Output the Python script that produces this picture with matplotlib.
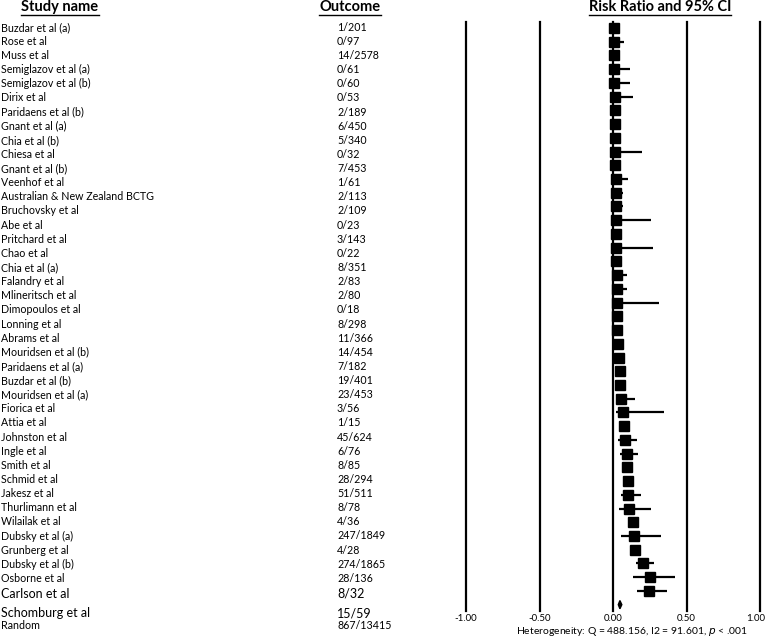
import numpy as np
import matplotlib
matplotlib.use('Agg')
import matplotlib.pyplot as plt
import matplotlib.transforms as mtransforms
from matplotlib.lines import Line2D

plt.rcParams['font.family'] = ['Lato', 'DejaVu Sans']

# du lieu doc tu hinh
studies = ['Buzdar et al (a)', 'Rose et al', 'Muss et al', 'Semiglazov et al (a)',
           'Semiglazov et al (b)', 'Dirix et al', 'Paridaens et al (b)', 'Gnant et al (a)',
           'Chia et al (b)', 'Chiesa et al', 'Gnant et al (b)', 'Veenhof et al',
           'Australian & New Zealand BCTG', 'Bruchovsky et al', 'Abe et al', 'Pritchard et al',
           'Chao et al', 'Chia et al (a)', 'Falandry et al', 'Mlineritsch et al',
           'Dimopoulos et al', 'Lonning et al', 'Abrams et al', 'Mouridsen et al (b)',
           'Paridaens et al (a)', 'Buzdar et al (b)', 'Mouridsen et al (a)', 'Fiorica et al',
           'Attia et al', 'Johnston et al', 'Ingle et al', 'Smith et al', 'Schmid et al',
           'Jakesz et al', 'Thurlimann et al', 'Wilailak et al', 'Dubsky et al (a)',
           'Grunberg et al', 'Dubsky et al (b)', 'Osborne et al', 'Carlson et al',
           'Schomburg et al']
outcomes = ['1/201', '0/97', '14/2578', '0/61', '0/60', '0/53', '2/189', '6/450', '5/340',
            '0/32', '7/453', '1/61', '2/113', '2/109', '0/23', '3/143', '0/22', '8/351',
            '2/83', '2/80', '0/18', '8/298', '11/366', '14/454', '7/182', '19/401', '23/453',
            '3/56', '1/15', '45/624', '6/76', '8/85', '28/294', '51/511', '8/78', '4/36',
            '247/1849', '4/28', '274/1865', '28/136', '8/32', '15/59']
est = [0.007, 0.008, 0.007, 0.010, 0.010, 0.011, 0.012, 0.014, 0.015, 0.017, 0.017, 0.018,
       0.018, 0.019, 0.020, 0.021, 0.022, 0.023, 0.024, 0.025, 0.026, 0.027, 0.030, 0.031,
       0.038, 0.047, 0.051, 0.054, 0.067, 0.072, 0.079, 0.094, 0.095, 0.100, 0.103, 0.111,
       0.134, 0.143, 0.147, 0.206, 0.255, 0.245]
lower = [0.001, 0.0, 0.004, 0.0, 0.0, 0.0, 0.003, 0.006, 0.006, 0.0, 0.008, 0.002,
         0.004, 0.004, 0.0, 0.007, 0.0, 0.012, 0.006, 0.006, 0.0, 0.014, 0.017, 0.019,
         0.018, 0.030, 0.034, 0.018, 0.020, 0.054, 0.036, 0.050, 0.066, 0.077, 0.055, 0.040,
         0.120, 0.054, 0.132, 0.155, 0.135, 0.165]
upper = [0.020, 0.075, 0.012, 0.115, 0.115, 0.135, 0.040, 0.030, 0.035, 0.200, 0.035, 0.105,
         0.070, 0.070, 0.260, 0.060, 0.270, 0.045, 0.095, 0.095, 0.310, 0.050, 0.055, 0.050,
         0.080, 0.070, 0.075, 0.150, 0.350, 0.095, 0.165, 0.170, 0.130, 0.120, 0.190, 0.260,
         0.150, 0.325, 0.165, 0.280, 0.425, 0.370]
pooled_label = 'Random'
pooled_outcome = '867/13415'
pooled_est, pooled_lo, pooled_hi = 0.047, 0.036, 0.060
gridlines = [-1.0, -0.5, 0.0, 0.5, 1.0]
tick_labels = ['-1.00', '-0.50', '0.00', '0.50', '1.00']

W, H = 766, 637
fig = plt.figure(figsize=(W / 100, H / 100), dpi=100)

# vung ve forest plot
x0, x1 = 466, 760
ytop, ybot = 22, 611
ax = fig.add_axes([x0 / W, (H - ybot) / H, (x1 - x0) / W, (ybot - ytop) / H])
n = len(studies)
row_h = 13.73
first = 28
ax.set_xlim(-1, 1)
ax.set_ylim((ybot - first) / row_h, (ytop - first) / row_h)
for s in ax.spines.values():
    s.set_visible(False)
ax.set_yticks([])
ax.set_xticks(gridlines)
ax.set_xticklabels(tick_labels, fontsize=7)
ax.tick_params(axis='x', length=0, pad=2)
# nhan 1.00 sat mep phai, day vao trong mot chut
last = ax.get_xticklabels()[-1]
last.set_transform(last.get_transform() + mtransforms.ScaledTranslation(-4 / 100, 0, fig.dpi_scale_trans))
for g in gridlines:
    ax.axvline(g, color='black', lw=1.6, clip_on=False)

rows = np.arange(n)
ax.hlines(rows, lower, upper, color='black', lw=1.6)
ax.plot(est, rows, 's', color='black', ms=7)
r = n
ax.fill([pooled_lo, pooled_est, pooled_hi, pooled_est], [r, r - 0.3, r, r + 0.3],
        color='black')

# cot chu
text_h = 14.13
for i in range(n + 1):
    yp = 27.3 + text_h * i
    fs = 7.7
    if i == n - 1:
        yp, fs = 613, 9
    elif i == n - 2:
        yp, fs = 594, 9
    elif i == n:
        yp = 625.7
    name = studies[i] if i < n else pooled_label
    outc = outcomes[i] if i < n else pooled_outcome
    fig.text(1 / W, 1 - yp / H, name, fontsize=fs, va='center', ha='left')
    fig.text(337 / W, 1 - yp / H, outc, fontsize=fs, va='center', ha='left')

headers = [
    fig.text(60 / W, 1 - 7 / H, 'Study name', fontsize=10.5, fontweight='bold', ha='center', va='center'),
    fig.text(350 / W, 1 - 7 / H, 'Outcome', fontsize=10.5, fontweight='bold', ha='center', va='center'),
    fig.text(660 / W, 1 - 7 / H, 'Risk Ratio and 95% CI', fontsize=10.5, fontweight='bold', ha='center', va='center'),
]
fig.text(632 / W, 1 - 631 / H, 'Heterogeneity: Q = 488.156, I2 = 91.601, $p$ < .001',
         fontsize=7.5, ha='center', va='center')

fig.canvas.draw()
for t in headers:
    bb = t.get_window_extent()
    yl = (bb.y0 - 0.5) / H
    fig.add_artist(Line2D([bb.x0 / W, bb.x1 / W], [yl, yl], color='black', lw=1.0))

fig.savefig('out.png', dpi=100)
